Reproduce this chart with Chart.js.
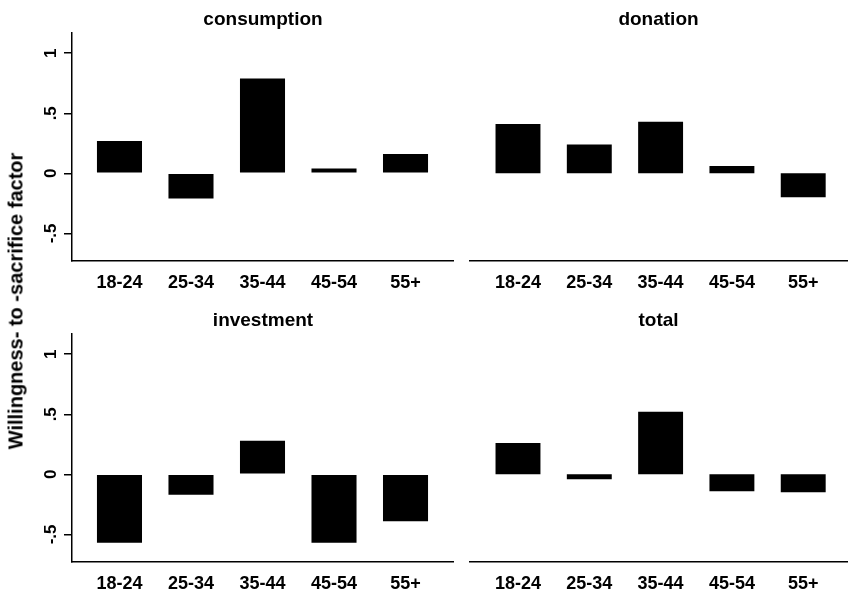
<!DOCTYPE html>
<html>
<head>
<meta charset="utf-8">
<script src="https://cdn.jsdelivr.net/npm/chart.js@4.4.1/dist/chart.umd.min.js"></script>
<style>
  body { margin: 0; background: #fff; }
  #wrap { position: relative; width: 848px; height: 592px; overflow: hidden; font-family: "Liberation Sans", Arial, sans-serif; }
  #wrap canvas { position: absolute; }
  #ytitle { position: absolute; left: 16px; top: 301px; transform: translate(-50%, -50%) rotate(-90deg); white-space: nowrap; font-weight: bold; font-size: 20px; color: #000; }
</style>
</head>
<body>
<div id="wrap">
  <canvas id="c1" width="454" height="296" style="left:0;top:0"></canvas>
  <canvas id="c2" width="379" height="296" style="left:469px;top:0"></canvas>
  <canvas id="c3" width="454" height="296" style="left:0;top:301px"></canvas>
  <canvas id="c4" width="379" height="296" style="left:469px;top:301px"></canvas>
  <div id="ytitle">Willingness- to -sacrifice factor</div>
</div>
<script>
// data
var ageGroups = ['18-24', '25-34', '35-44', '45-54', '55+'];
var consumption = [0.27, -0.21, 0.79, 0.04, 0.16];
var donation = [0.41, 0.24, 0.43, 0.06, -0.20];
var investment = [-0.57, -0.17, 0.28, -0.57, -0.39];
var total = [0.26, -0.04, 0.52, -0.14, -0.15];
var yTickValues = [-0.5, 0, 0.5, 1];
var yTickLabels = ['-.5', '0', '.5', '1'];

var FONT = '"Liberation Sans", Arial, sans-serif';

function makePanel(id, title, values, showY, xMin, xMax) {
    var points = values.map(function(v, i) { return { x: i, y: v }; });
    return new Chart(document.getElementById(id), {
        type: 'bar',
        data: { datasets: [{ data: points, backgroundColor: '#000', borderWidth: 0, barPercentage: 0.63, categoryPercentage: 1 }] },
        options: {
            responsive: false,
            animation: false,
            layout: { padding: 0 },
            plugins: {
                legend: { display: false },
                tooltip: { enabled: false },
                title: { display: true, text: title, color: '#000', fullSize: false,
                    font: { family: FONT, size: 19, weight: 'bold', lineHeight: 1.2 }, padding: { top: 8, bottom: 2 } }
            },
            scales: {
                x: {
                    type: 'linear', min: xMin, max: xMax, offset: false,
                    grid: { display: false, drawTicks: false, offset: false },
                    border: { display: true, color: '#000', width: 1.5 },
                    afterBuildTicks: function(s) { s.ticks = ageGroups.map(function(c, i) { return { value: i }; }); },
                    afterFit: function(s) { s.height = 35; },
                    ticks: { autoSkip: false, maxRotation: 0, padding: 11, color: '#000',
                        font: { family: FONT, size: 18, weight: 'bold' },
                        callback: function(v) { return ageGroups[v]; } }
                },
                y: {
                    display: showY, min: -0.73, max: 1.17,
                    grid: { drawOnChartArea: false, drawTicks: true, tickLength: 8, color: '#000', lineWidth: 1.5 },
                    border: { display: true, color: '#000', width: 1.5 },
                    afterBuildTicks: function(s) { s.ticks = yTickValues.map(function(v) { return { value: v }; }); },
                    // only the left column keeps a y axis
                    afterFit: function(s) { s.width = showY ? 72 : 0; },
                    ticks: { minRotation: 90, maxRotation: 90, crossAlign: 'center', padding: 3, color: '#000',
                        font: { family: FONT, size: 17, weight: 'bold' },
                        callback: function(v) { return yTickLabels[yTickValues.indexOf(v)]; } }
                }
            }
        }
    });
}

makePanel('c1', 'consumption', consumption, true, -0.664, 4.678);
makePanel('c2', 'donation', donation, false, -0.687, 4.628);
makePanel('c3', 'investment', investment, true, -0.664, 4.678);
makePanel('c4', 'total', total, false, -0.687, 4.628);
</script>
</body>
</html>
